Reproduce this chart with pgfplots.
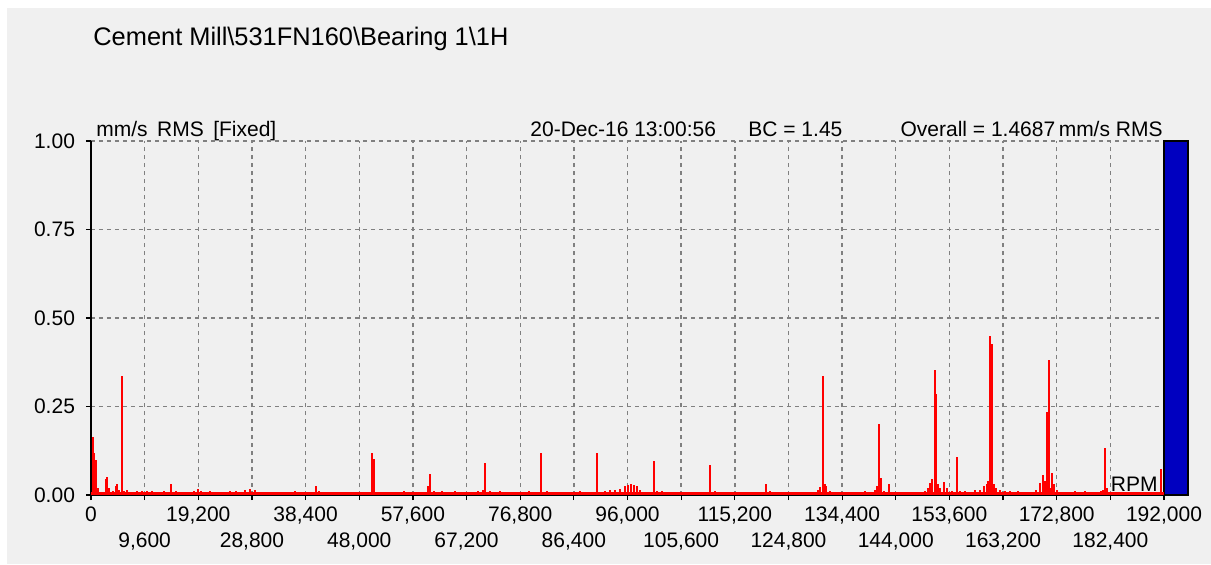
\documentclass[border=0pt]{standalone}
\usepackage{pgfplots}
\pgfplotsset{compat=1.18}
\usepackage{pgfplotstable}
\usepackage{fontspec}
\setmainfont{Liberation Sans}
\definecolor{bg}{HTML}{F0F0F0}
\definecolor{gridgray}{HTML}{808080}
\definecolor{barblue}{RGB}{0,0,192}

\pgfplotstableread{
rpm val
270 0.165
450 0.120
720 0.075
980 0.099
1250 0.020
2680 0.045
2950 0.052
3220 0.020
3940 0.012
4470 0.025
4740 0.030
5010 0.015
5550 0.335
5900 0.012
6440 0.015
7160 0.008
8230 0.010
9120 0.012
10020 0.010
10920 0.012
11810 0.008
13060 0.012
14320 0.030
15210 0.010
16820 0.008
18430 0.010
19150 0.018
19680 0.012
21290 0.010
24870 0.010
25950 0.012
27560 0.015
28450 0.018
29350 0.014
30600 0.008
32030 0.006
36500 0.010
40260 0.025
40800 0.010
43130 0.008
49210 0.008
50370 0.120
50640 0.102
51360 0.008
52250 0.008
56010 0.010
58870 0.008
60300 0.025
60660 0.058
61380 0.010
62810 0.010
65130 0.012
66920 0.008
69240 0.010
70140 0.015
70590 0.091
71400 0.010
73190 0.010
74980 0.008
77660 0.008
78380 0.012
80610 0.120
81600 0.010
83210 0.008
86070 0.008
87510 0.010
88940 0.006
90630 0.120
91980 0.012
92870 0.015
93760 0.014
94660 0.018
95550 0.025
96090 0.028
96630 0.031
97160 0.028
97700 0.025
98240 0.015
98770 0.008
100740 0.097
101280 0.012
102170 0.010
103960 0.008
105390 0.006
108970 0.008
110850 0.086
111650 0.010
112550 0.006
120070 0.008
120870 0.030
121500 0.010
124180 0.008
126870 0.006
129550 0.008
130090 0.015
130450 0.022
130900 0.336
131260 0.030
131530 0.025
132240 0.010
135820 0.008
138500 0.010
140290 0.015
140650 0.025
141060 0.200
141420 0.048
141900 0.012
142740 0.030
143870 0.008
147450 0.008
149240 0.012
149780 0.020
150130 0.035
150490 0.045
150990 0.353
151260 0.284
151560 0.030
151920 0.020
152630 0.038
153170 0.020
154060 0.012
154900 0.108
155480 0.010
156380 0.012
158170 0.015
159060 0.015
159780 0.025
160320 0.030
160590 0.040
160910 0.449
161270 0.427
161580 0.030
161930 0.020
162650 0.015
163550 0.012
164440 0.010
165880 0.010
168020 0.008
169100 0.015
169820 0.035
170350 0.056
170710 0.040
171070 0.234
171380 0.381
171610 0.020
171970 0.063
172330 0.030
172860 0.015
174290 0.008
176080 0.010
177870 0.012
179660 0.008
180730 0.010
181090 0.015
181450 0.132
181800 0.020
183240 0.008
185920 0.006
188610 0.006
191400 0.073
}\spectrum

\begin{document}
\begin{tikzpicture}
\fill[white] (0,0) rectangle (605.5pt,282pt);
\fill[bg] (3.5pt,0) rectangle (605.5pt,278pt);
\node[anchor=base west, font=\fontsize{12.7}{14}\selectfont, inner sep=0] at (46.5pt,259pt) {Cement Mill\textbackslash531FN160\textbackslash Bearing 1\textbackslash1H};
\node[anchor=base west, font=\fontsize{10.5}{12}\selectfont, inner sep=0] at (48pt,214pt) {mm/s\hspace{0.45em}RMS\hspace{0.45em}[Fixed]};
\node[anchor=base west, font=\fontsize{10.5}{12}\selectfont, inner sep=0] at (265pt,214pt) {20-Dec-16 13:00:56};
\node[anchor=base west, font=\fontsize{10.5}{12}\selectfont, inner sep=0] at (374pt,214pt) {BC = 1.45};
\node[anchor=base east, font=\fontsize{10.5}{12}\selectfont, inner sep=0] at (581.5pt,214pt) {Overall = 1.4687\,mm/s RMS};
\begin{axis}[
  at={(45.5pt,34.5pt)}, anchor=south west,
  scale only axis, width=548.5pt, height=177pt,
  xmin=0, xmax=196294, ymin=0, ymax=1,
  axis x line=bottom, axis y line=left,
  axis line style={-, black, line width=0.75pt},
  tick style={black, line width=0.6pt},
  tick align=outside, major tick length=2.5pt,
  xtick={0,19200,...,192000},
  extra x ticks={9600,28800,...,182400},
  extra x tick style={grid=major, xticklabel style={yshift=-13pt}},
  ytick={0,0.25,0.5,0.75,1},
  grid=major,
  major grid style={gridgray, dash pattern=on 2pt off 2pt, line width=0.7pt},
  scaled x ticks=false, scaled y ticks=false,
  tick label style={font=\fontsize{10.5}{12}\selectfont, /pgf/number format/assume math mode=true},
  xticklabel style={/pgf/number format/fixed, /pgf/number format/precision=0, /pgf/number format/1000 sep={,}},
  yticklabel style={xshift=-2pt, /pgf/number format/fixed, /pgf/number format/fixed zerofill, /pgf/number format/precision=2},
  clip=false,
]
\addplot[draw=black, fill=barblue, line width=0.75pt] coordinates {(192000,0) (192000,1) (196294,1) (196294,0)} \closedcycle;
\addplot[red, line width=1.2pt] coordinates {(0,0.004) (192000,0.004)};
\addplot[red, ycomb, line width=1pt] table[x=rpm, y=val] {\spectrum};
\node[anchor=base east, font=\fontsize{10.5}{12}\selectfont, inner sep=0] at (axis cs:190930,0.011) {RPM};
\end{axis}
\pgfresetboundingbox
\path[use as bounding box] (0,0) rectangle (605.5pt,282pt);
\end{tikzpicture}
\end{document}
